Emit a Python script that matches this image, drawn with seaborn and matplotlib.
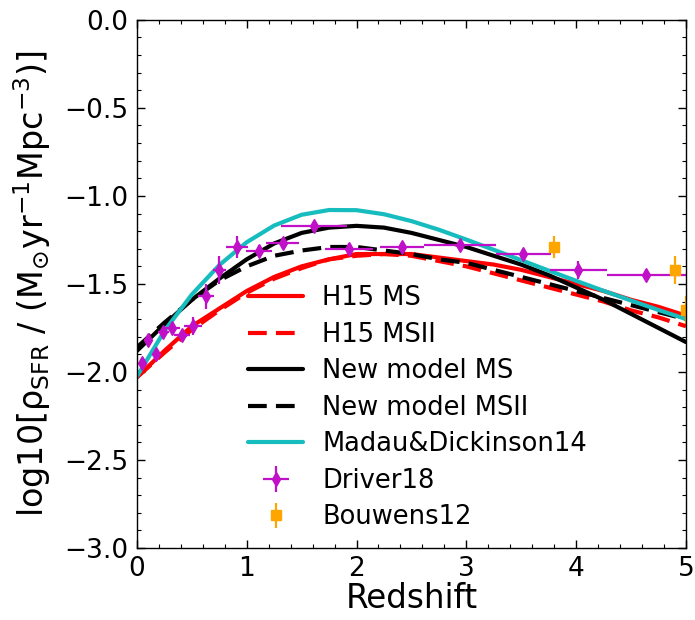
import numpy as np
import pandas as pd
import matplotlib
matplotlib.use("Agg")
import matplotlib.pyplot as plt
import seaborn as sns

# ---- data ----
z_grid = [0.0, 0.25, 0.5, 0.75, 1.0, 1.25, 1.5, 1.75, 2.0, 2.25, 2.5,
          2.75, 3.0, 3.25, 3.5, 3.75, 4.0, 4.25, 4.5, 4.75, 5.0]
h15_ms = [-2.03, -1.88, -1.74, -1.64, -1.54, -1.46, -1.40, -1.36, -1.33, -1.33, -1.33,
          -1.35, -1.37, -1.39, -1.42, -1.46, -1.50, -1.54, -1.59, -1.63, -1.68]
h15_msii = [-2.03, -1.89, -1.76, -1.65, -1.55, -1.47, -1.41, -1.36, -1.34, -1.33, -1.34,
            -1.37, -1.40, -1.44, -1.48, -1.52, -1.56, -1.60, -1.65, -1.69, -1.74]
new_ms = [-1.88, -1.73, -1.59, -1.47, -1.36, -1.27, -1.21, -1.18, -1.17, -1.18, -1.21,
          -1.25, -1.29, -1.34, -1.39, -1.45, -1.52, -1.59, -1.67, -1.75, -1.83]
new_msii = [-1.86, -1.72, -1.59, -1.48, -1.40, -1.34, -1.31, -1.29, -1.29, -1.31, -1.33,
            -1.36, -1.38, -1.42, -1.46, -1.50, -1.54, -1.58, -1.62, -1.66, -1.70]
md14 = [-2.026, -1.767, -1.560, -1.393, -1.263, -1.168, -1.107, -1.080, -1.081, -1.104, -1.143,
        -1.192, -1.248, -1.306, -1.365, -1.424, -1.482, -1.539, -1.594, -1.648, -1.699]

driver_z = [0.05, 0.10, 0.17, 0.24, 0.32, 0.41, 0.51, 0.63, 0.75, 0.91,
            1.11, 1.33, 1.61, 1.93, 2.41, 2.94, 3.52, 4.02, 4.64]
driver_y = [-1.95, -1.82, -1.90, -1.775, -1.75, -1.79, -1.74, -1.57, -1.42, -1.29,
            -1.31, -1.27, -1.17, -1.30, -1.29, -1.28, -1.33, -1.42, -1.45]
driver_xerr = [0.03, 0.04, 0.03, 0.05, 0.07, 0.07, 0.08, 0.07, 0.06, 0.10,
               0.12, 0.15, 0.30, 0.22, 0.20, 0.33, 0.25, 0.26, 0.36]
driver_yerr = [0.03, 0.03, 0.03, 0.03, 0.03, 0.03, 0.05, 0.07, 0.08, 0.06,
               0.03, 0.03, 0.03, 0.03, 0.03, 0.03, 0.03, 0.05, 0.03]

bouwens_z = [3.8, 4.9, 5.0]
bouwens_y = [-1.29, -1.42, -1.65]
bouwens_yerr = [0.06, 0.08, 0.08]

legend_labels = ["H15 MS", "H15 MSII", "New model MS", "New model MSII",
                 "Madau&Dickinson14", "Driver18", "Bouwens12"]

# ---- build tables ----
curves = pd.DataFrame({
    "z": z_grid * 5,
    "val": h15_ms + h15_msii + new_ms + new_msii + md14,
    "model": sum([[lab] * len(z_grid) for lab in legend_labels[:5]], []),
})

sns.set_style("ticks")
plt.rcParams["font.family"] = ["DejaVu Sans"]
plt.rcParams["text.color"] = "black"
plt.rcParams["axes.labelcolor"] = "black"
plt.rcParams["xtick.color"] = "black"
plt.rcParams["ytick.color"] = "black"

fig = plt.figure(figsize=(6.95, 6.2), dpi=100)
ax = fig.add_axes([0.197, 0.116, 0.790, 0.852])

styles = {
    "H15 MS": dict(color="red", dash=None),
    "H15 MSII": dict(color="red", dash=(4.5, 2.2)),
    "New model MS": dict(color="black", dash=None),
    "New model MSII": dict(color="black", dash=(4.5, 2.2)),
    "Madau&Dickinson14": dict(color="#17bcbf", dash=None),
}
for lab in legend_labels[:5]:
    sub = curves[curves["model"] == lab]
    sns.lineplot(data=sub, x="z", y="val", ax=ax, color=styles[lab]["color"],
                 linewidth=3, label=lab, sort=False)
    if styles[lab]["dash"] is not None:
        ax.lines[-1].set_dashes(styles[lab]["dash"])

ax.errorbar(driver_z, driver_y, xerr=driver_xerr, yerr=driver_yerr, fmt="d",
            color="#c010c8", ms=7, elinewidth=1.6, capsize=0, label="Driver18")
ax.errorbar(bouwens_z, bouwens_y, yerr=bouwens_yerr, fmt="s",
            color="orange", ms=7, elinewidth=1.6, capsize=0, label="Bouwens12")

ax.set_xlim(0, 5)
ax.set_ylim(-3.0, 0.0)
ax.set_xticks([0, 1, 2, 3, 4, 5])
ax.set_yticks([-3.0, -2.5, -2.0, -1.5, -1.0, -0.5, 0.0])
ax.set_yticklabels(["\u22123.0", "\u22122.5", "\u22122.0", "\u22121.5", "\u22121.0", "\u22120.5", "0.0"])
ax.xaxis.set_minor_locator(matplotlib.ticker.MultipleLocator(0.2))
ax.yaxis.set_minor_locator(matplotlib.ticker.MultipleLocator(0.1))
ax.tick_params(which="both", direction="in", top=True, right=True, colors="black")
ax.tick_params(which="major", length=6, width=1, labelsize=19, pad=6)
ax.tick_params(which="minor", length=3, width=0.8)
for s in ax.spines.values():
    s.set_linewidth(1.0)
    s.set_color("black")

ax.set_xlabel("Redshift", fontsize=23.5, labelpad=0, color="black")
ax.set_ylabel(r"log10[$\rm\rho_{SFR}$ / (M$_{\odot}$yr$^{-1}$Mpc$^{-3}$)]", fontsize=24,
              color="black")
ax.yaxis.set_label_coords(-0.152, 0.5)

handles, labels = ax.get_legend_handles_labels()
order = [labels.index(l) for l in legend_labels]
leg = ax.legend([handles[i] for i in order], [labels[i] for i in order],
                loc="upper left", bbox_to_anchor=(0.184, 0.517), borderaxespad=0,
                frameon=False, fontsize=18.5, handlelength=2.15, labelspacing=0.41,
                handletextpad=0.74)
for t in leg.get_texts():
    t.set_color("black")

fig.savefig("out.png", dpi=100)
